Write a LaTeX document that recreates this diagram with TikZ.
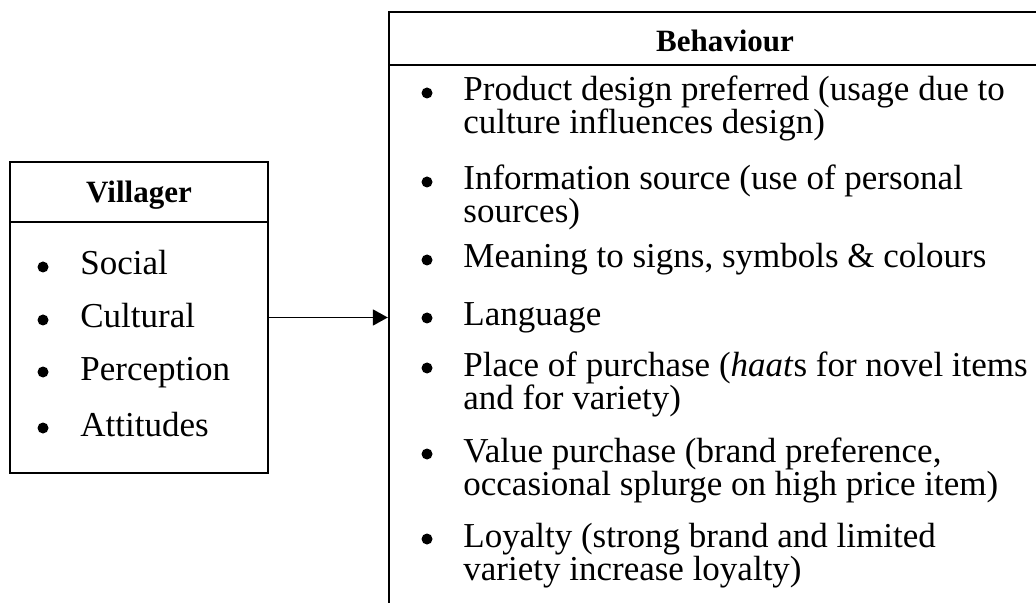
\documentclass[tikz,border=0pt]{standalone}
\usepackage{fontspec}
\setmainfont{Liberation Serif}
\usetikzlibrary{arrows.meta}

\begin{document}
\begin{tikzpicture}[x=0.5pt, y=-0.5pt,
    box/.style={draw, line width=1.2pt, inner sep=0pt},
    titel/.style={font=\fontsize{15.5}{18}\selectfont\bfseries, anchor=base},
    eintrag/.style={font=\fontsize{17.5}{20}\selectfont, anchor=base west, inner sep=0pt},
    punkt/.style={circle, fill, inner sep=0pt, minimum size=5.5pt},
    pfeil/.style={-{Triangle[length=7.5pt,width=8pt]}, line width=0.9pt}]
    % Bildausschnitt
    \useasboundingbox (0,0) rectangle (1036,603);
    \clip (0,0) rectangle (1036,603);

    % Kasten links
    \node[box, minimum width=129pt, minimum height=155.5pt] (villager) at (139,317.5) {};
    \draw[line width=1.2pt] (10,222) -- (268,222);
    \node[titel] (villagertitel) at (139,203) {Villager};

    % Kasten rechts (ragt ueber den Rand)
    \node[box, minimum width=337pt, minimum height=315pt] (behaviour) at (726,327) {};
    \draw[line width=1.2pt] (389,65) -- (1063,65);
    \node[titel] (behaviourtitel) at (725,52) {Behaviour};

    % Punkte links
    \foreach \y/\t [count=\i] in {275/Social, 328/Cultural, 380/Perception, 436/Attitudes} {
        \node[punkt] (vp\i) at (43,{\y-8}) {};
        \node[eintrag] (v\i) at (80,\y) {\t};
    }

    % Punkte rechts, erste Zeilen
    \foreach \y/\t [count=\i] in {
        101/{Product design preferred (usage due to},
        190/{Information source (use of personal},
        268/{Meaning to signs, symbols \& colours},
        326/{Language},
        376/{Place of purchase (\textit{haat}s for novel items},
        462/{Value purchase (brand preference,},
        547/{Loyalty (strong brand and limited}} {
        \node[punkt] (bp\i) at (427,{\y-8}) {};
        \node[eintrag] (b\i) at (463,\y) {\t};
    }

    % zweite Zeilen
    \foreach \y/\t [count=\i] in {
        134/{culture influences design)},
        223/{sources)},
        409/{and for variety)},
        495/{occasional splurge on high price item)},
        580/{variety increase loyalty)}} {
        \node[eintrag] (bz\i) at (463,\y) {\t};
    }

    % Pfeil
    \draw[pfeil] (villager.east) -- (villager.east -| behaviour.west);
\end{tikzpicture}
\end{document}
